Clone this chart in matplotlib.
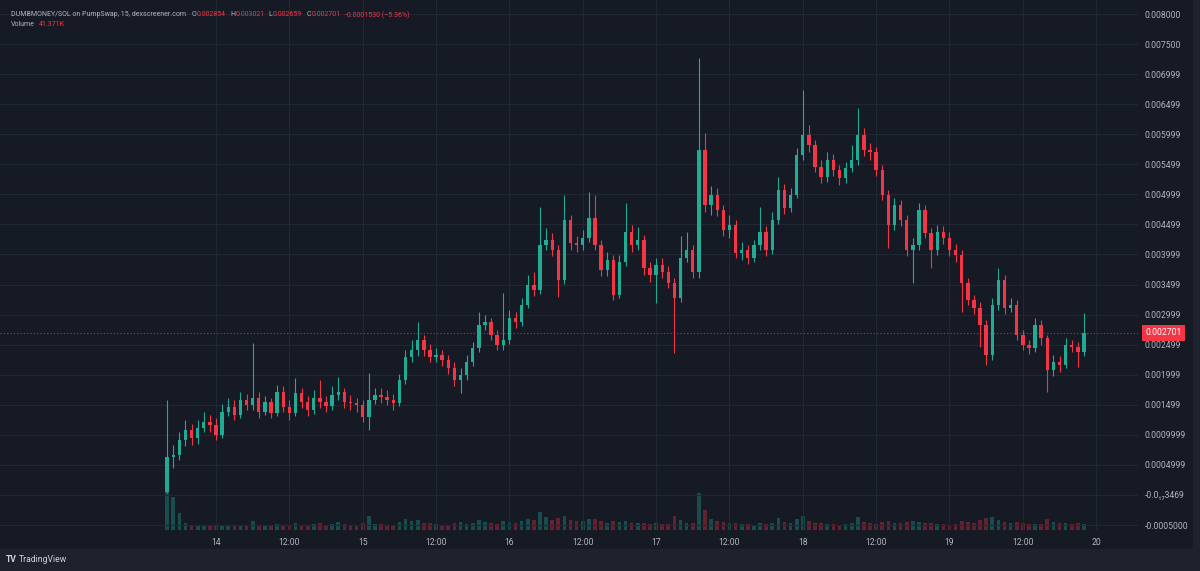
import numpy as np
import matplotlib.pyplot as plt
from matplotlib.patches import Rectangle
import matplotlib.transforms as mtransforms

plt.rcParams['font.family'] = ['Roboto', 'DejaVu Sans']

# ==================== 数据（按小时读取，13日16:00起）====================
start_hour = -8          # 相对于14日00:00的小时数
open_first = 0.00005

close = [
    0.00063, 0.00067, 0.00092, 0.00108, 0.00095, 0.00111, 0.00121, 0.00116, 0.00100, 0.00138,
    0.00146, 0.00133, 0.00158, 0.00150, 0.00161, 0.00138, 0.00155, 0.00136, 0.00171, 0.00146,
    0.00136, 0.00170, 0.00155, 0.00141, 0.00161, 0.00155, 0.00148, 0.00166, 0.00171, 0.00155,
    0.00153, 0.00150, 0.00130, 0.00158, 0.00166, 0.00163, 0.00158, 0.00153, 0.00191, 0.00230,
    0.00241, 0.00258, 0.00241, 0.00230, 0.00233, 0.00225, 0.00211, 0.00191, 0.00200, 0.00221,
    0.00244, 0.00283, 0.00288, 0.00266, 0.00250, 0.00258, 0.00294, 0.00288, 0.00316, 0.00349,
    0.00341, 0.00416, 0.00424, 0.00408, 0.00358, 0.00457, 0.00419, 0.00416, 0.00427, 0.00461,
    0.00416, 0.00374, 0.00391, 0.00333, 0.00388, 0.00437, 0.00416, 0.00424, 0.00378, 0.00366,
    0.00383, 0.00371, 0.00353, 0.00328, 0.00394, 0.00408, 0.00371, 0.00574, 0.00482, 0.00499,
    0.00474, 0.00441, 0.00449, 0.00403, 0.00408, 0.00394, 0.00416, 0.00437, 0.00408, 0.00457,
    0.00507, 0.00477, 0.00499, 0.00566, 0.00599, 0.00582, 0.00546, 0.00529, 0.00557, 0.00541,
    0.00527, 0.00544, 0.00557, 0.00599, 0.00574, 0.00570, 0.00541, 0.00499, 0.00449, 0.00482,
    0.00457, 0.00408, 0.00416, 0.00474, 0.00436, 0.00408, 0.00437, 0.00427, 0.00408, 0.00399,
    0.00353, 0.00324, 0.00311, 0.00283, 0.00233, 0.00316, 0.00358, 0.00311, 0.00316, 0.00266,
    0.00250, 0.00244, 0.00283, 0.00261, 0.00208, 0.00221, 0.00216, 0.00250, 0.00246, 0.00238,
    0.002701,
]

high = [
    0.00158, 0.00083, 0.00105, 0.00125, 0.00118, 0.00125, 0.00138, 0.00133, 0.00128, 0.00151,
    0.00161, 0.00158, 0.00171, 0.00168, 0.00253, 0.00171, 0.00165, 0.00161, 0.00183, 0.00181,
    0.00158, 0.00195, 0.00178, 0.00165, 0.00175, 0.00191, 0.00165, 0.00181, 0.00196, 0.00178,
    0.00166, 0.00161, 0.00158, 0.00203, 0.00178, 0.00178, 0.00175, 0.00168, 0.00201, 0.00241,
    0.00258, 0.00288, 0.00266, 0.00251, 0.00244, 0.00241, 0.00233, 0.00221, 0.00211, 0.00233,
    0.00254, 0.00304, 0.00299, 0.00294, 0.00274, 0.00336, 0.00308, 0.00304, 0.00328, 0.00366,
    0.00371, 0.00479, 0.00444, 0.00436, 0.00416, 0.00499, 0.00466, 0.00431, 0.00441, 0.00504,
    0.00499, 0.00424, 0.00404, 0.00399, 0.00399, 0.00486, 0.00449, 0.00446, 0.00432, 0.00388,
    0.00394, 0.00394, 0.00381, 0.00361, 0.00431, 0.00437, 0.00416, 0.00727, 0.00602, 0.00514,
    0.00511, 0.00482, 0.00466, 0.00457, 0.00421, 0.00416, 0.00424, 0.00479, 0.00447, 0.00471,
    0.00529, 0.00517, 0.00511, 0.00577, 0.00674, 0.00615, 0.00590, 0.00557, 0.00570, 0.00567,
    0.00549, 0.00554, 0.00582, 0.00644, 0.00610, 0.00585, 0.00579, 0.00549, 0.00507, 0.00494,
    0.00491, 0.00466, 0.00427, 0.00486, 0.00482, 0.00444, 0.00449, 0.00447, 0.00437, 0.00418,
    0.00408, 0.00361, 0.00333, 0.00321, 0.00291, 0.00328, 0.00378, 0.00366, 0.00328, 0.00324,
    0.00274, 0.00258, 0.00294, 0.00291, 0.00266, 0.00233, 0.00231, 0.00261, 0.00258, 0.00254,
    0.00302,
]

low = [
    0.00004, 0.00045, 0.00058, 0.00081, 0.00083, 0.00085, 0.00105, 0.00105, 0.00091, 0.00095,
    0.00131, 0.00125, 0.00128, 0.00141, 0.00141, 0.00128, 0.00133, 0.00128, 0.00131, 0.00138,
    0.00125, 0.00131, 0.00145, 0.00131, 0.00135, 0.00145, 0.00138, 0.00141, 0.00158, 0.00145,
    0.00141, 0.00138, 0.00121, 0.00108, 0.00151, 0.00153, 0.00150, 0.00141, 0.00148, 0.00185,
    0.00221, 0.00231, 0.00231, 0.00221, 0.00221, 0.00215, 0.00201, 0.00181, 0.00170, 0.00191,
    0.00215, 0.00238, 0.00274, 0.00258, 0.00241, 0.00241, 0.00251, 0.00278, 0.00281, 0.00311,
    0.00331, 0.00334, 0.00408, 0.00398, 0.00329, 0.00351, 0.00408, 0.00404, 0.00408, 0.00421,
    0.00408, 0.00364, 0.00364, 0.00324, 0.00328, 0.00381, 0.00404, 0.00408, 0.00366, 0.00354,
    0.00319, 0.00361, 0.00344, 0.00236, 0.00321, 0.00388, 0.00361, 0.00361, 0.00471, 0.00466,
    0.00464, 0.00431, 0.00427, 0.00394, 0.00391, 0.00384, 0.00388, 0.00408, 0.00398, 0.00401,
    0.00451, 0.00467, 0.00471, 0.00494, 0.00557, 0.00570, 0.00537, 0.00519, 0.00521, 0.00531,
    0.00516, 0.00519, 0.00537, 0.00549, 0.00564, 0.00557, 0.00531, 0.00491, 0.00411, 0.00441,
    0.00447, 0.00398, 0.00353, 0.00408, 0.00427, 0.00378, 0.00399, 0.00418, 0.00398, 0.00388,
    0.00304, 0.00316, 0.00301, 0.00246, 0.00216, 0.00225, 0.00308, 0.00301, 0.00304, 0.00258,
    0.00241, 0.00235, 0.00238, 0.00250, 0.00171, 0.00198, 0.00205, 0.00211, 0.00238, 0.00213,
    0.00231,
]

# 成交量（千）
volume = [
    1500, 1000, 520, 200, 150, 120, 130, 110, 140, 160,
    120, 130, 150, 140, 260, 160, 130, 140, 180, 150,
    130, 200, 150, 160, 180, 220, 160, 190, 230, 180,
    150, 140, 200, 420, 190, 170, 150, 140, 250, 330,
    260, 300, 220, 200, 170, 150, 160, 200, 230, 180,
    220, 300, 240, 200, 180, 260, 250, 200, 280, 330,
    300, 550, 380, 300, 350, 420, 300, 260, 280, 330,
    320, 260, 220, 280, 230, 260, 220, 200, 210, 180,
    220, 170, 180, 420, 300, 220, 200, 1100, 600, 330,
    280, 240, 220, 200, 180, 170, 160, 220, 180, 200,
    350, 230, 220, 330, 420, 280, 220, 200, 180, 170,
    160, 170, 200, 380, 250, 200, 190, 230, 280, 220,
    200, 240, 260, 230, 200, 220, 190, 170, 160, 170,
    260, 240, 200, 300, 350, 400, 300, 250, 220, 240,
    200, 180, 190, 170, 330, 240, 200, 220, 190, 200,
    180,
]

y_ticks = [0.008, 0.0075, 0.007, 0.0065, 0.006, 0.0055, 0.005, 0.0045, 0.004,
           0.0035, 0.003, 0.0025, 0.002, 0.0015, 0.001, 0.0005, 0.0, -0.0005]
y_labels = ['0.008000', '0.007500', '0.006999', '0.006499', '0.005999', '0.005499',
            '0.004999', '0.004499', '0.003999', '0.003499', '0.002999', '0.002499',
            '0.001999', '0.001499', '0.0009999', '0.0004999', '-0.0\u2081\u20873469',
            '-0.0005000']
x_ticks = [0, 12, 24, 36, 48, 60, 72, 84, 96, 108, 120, 132, 144]
x_labels = ['14', '12:00', '15', '12:00', '16', '12:00', '17', '12:00',
            '18', '12:00', '19', '12:00', '20']

# ==================== 样式 ====================
BG = '#161a25'
FRAME = '#1e222d'
GRID = '#222735'
TXT = '#b2b5be'
UP = '#22ab94'
DOWN = '#f23645'

W, H = 1200, 571
fig = plt.figure(figsize=(W / 100, H / 100), dpi=100, facecolor=BG)
ax = fig.add_axes([0, 1 - 530 / H, 1138 / W, 530 / H])
axv = ax.twinx()
ax.set_zorder(axv.get_zorder() + 1)
ax.patch.set_visible(False)
axv.set_facecolor(BG)

o = np.array([open_first] + close[:-1])
c = np.array(close)
hi = np.maximum(np.array(high), np.maximum(o, c))
lo = np.minimum(np.array(low), np.minimum(o, c))
t = start_hour + np.arange(len(c))
up = c >= o
cols = np.where(up, UP, DOWN)

# 成交量
axv.bar(t, volume, width=0.6, color=cols, alpha=0.35, linewidth=0)
axv.set_ylim(0, 530 * 30)
axv.set_yticks([])
for s in axv.spines.values():
    s.set_visible(False)

# K线
ax.vlines(t, lo, hi, colors=cols, linewidth=0.8, zorder=3)
body_h = np.maximum(np.abs(c - o), 0.000012)
ax.bar(t, body_h, bottom=np.minimum(o, c), width=0.55, color=cols, linewidth=0, zorder=4)

ax.set_xlim(-35.34, 150.84)
ax.set_ylim(-0.000583, 0.008233)
axv.set_xlim(-35.34, 150.84)

ax.set_yticks(y_ticks)
ax.set_yticklabels(y_labels)
ax.set_xticks(x_ticks)
ax.set_xticklabels(x_labels)
ax.tick_params(axis='y', length=0, left=False, labelleft=False, right=False,
               labelright=True, pad=5, labelsize=6.2, labelcolor=TXT)
ax.tick_params(axis='x', length=0, pad=6, labelsize=6.2, labelcolor=TXT)
ax.grid(True, color=GRID, linewidth=0.8)
ax.set_axisbelow(True)
for s in ax.spines.values():
    s.set_visible(False)

# 当前价格线与标签
last = close[-1]
ax.axhline(last, color=DOWN, linestyle=(0, (1, 2)), linewidth=0.8, alpha=0.8, zorder=2)
trans = mtransforms.blended_transform_factory(ax.transAxes, ax.transData)
ax.text(1.0 + 7 / 1138, last, '0.002701', transform=trans, ha='left', va='center',
        fontsize=6.2, color='white', zorder=10, clip_on=False,
        bbox=dict(boxstyle='square,pad=0.4', fc=DOWN, ec='none'))

# 外框
fig.patches.append(Rectangle((0, 0), 1, (H - 549) / H, transform=fig.transFigure,
                             color=FRAME, zorder=0))
fig.patches.append(Rectangle((1193 / W, 0), 7 / W, 1, transform=fig.transFigure,
                             color=FRAME, zorder=0))


# 标题信息：逐段接在前一段后面
def chain(x, y, pieces, size=5.0):
    prev = None
    for s, col, gap in pieces:
        if prev is None:
            prev = ax.annotate(s, xy=(x, H - y), xycoords='figure pixels', color=col,
                               fontsize=size, va='center', ha='left', annotation_clip=False)
        else:
            prev = ax.annotate(s, xy=(1, 0.5), xycoords=prev, xytext=(gap, 0),
                               textcoords='offset points', color=col, fontsize=size,
                               va='center', ha='left', annotation_clip=False)


chain(11, 15, [('DUMBMONEY/SOL on PumpSwap, 15, dexscreener.com', TXT, 0),
               ('O', TXT, 4), ('0.002854', DOWN, 0.3),
               ('H', TXT, 3), ('0.003021', DOWN, 0.3),
               ('L', TXT, 3), ('0.002659', DOWN, 0.3),
               ('C', TXT, 3), ('0.002701', DOWN, 0.3),
               ('-0.0001530 (\u22125.36%)', DOWN, 3)])
chain(11, 25, [('Volume', TXT, 0), ('41.371K', DOWN, 3)])

fig.text(6 / W, 1 - 559 / H, 'TV', color='#d1d4dc', fontsize=6.2, fontweight='bold',
         va='center', ha='left')
fig.text(19 / W, 1 - 559 / H, 'TradingView', color='#d1d4dc', fontsize=6.2,
         va='center', ha='left')

plt.savefig('out.png', dpi=100, facecolor=BG)
